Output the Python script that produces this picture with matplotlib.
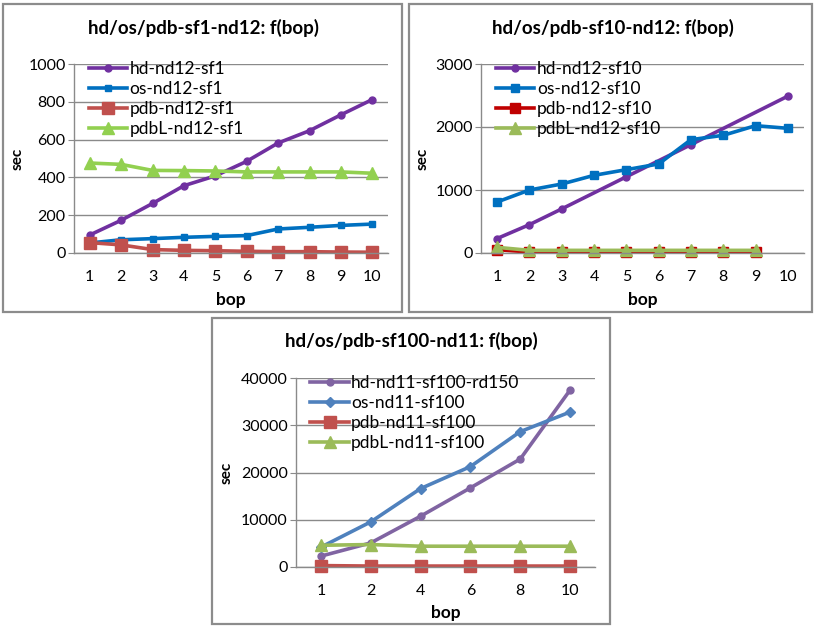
import numpy as np
import matplotlib
matplotlib.use("Agg")
import matplotlib.pyplot as plt
from matplotlib.patches import Rectangle

plt.rcParams['font.family'] = ['Lato', 'DejaVu Sans']

# --- data ---
cats_a = ['1', '2', '3', '4', '5', '6', '7', '8', '9', '10']
hd_sf1 = [95, 173, 262, 356, 408, 485, 582, 647, 731, 812]
os_sf1 = [53, 70, 76, 83, 88, 92, 127, 136, 146, 153]
pdb_sf1 = [55, 43, 18, 14, 12, 9, 7, 7, 5, 4]
pdbL_sf1 = [476, 469, 437, 436, 434, 429, 429, 429, 429, 422]

hd_sf10 = [230, 450, 700, np.nan, 1210, np.nan, 1720, np.nan, np.nan, 2490]
os_sf10 = [810, 1000, 1095, 1233, 1323, 1413, 1799, 1868, 2021, 1979]
pdb_sf10 = [53, 16, 16, 16, 16, 16, 16, 16, 16, np.nan]
pdbL_sf10 = [90, 42, 42, 42, 42, 42, 42, 42, 42, np.nan]

cats_c = ['1', '2', '4', '6', '8', '10']
hd_sf100 = [2300, 5100, 10750, 16750, 22850, 37450]
os_sf100 = [4200, 9550, 16600, 21250, 28650, 32800]
pdb_sf100 = [300, 200, 200, 200, 200, 200]
pdbL_sf100 = [4600, 4750, 4400, 4400, 4400, 4400]

W, H = 814, 626
fig = plt.figure(figsize=(W / 100, H / 100), dpi=100)
fig.patch.set_facecolor('white')


def frac_box(x0, y0, x1, y1):
    return [x0 / W, 1 - y1 / H, (x1 - x0) / W, (y1 - y0) / H]


def panel_frame(x0, y0, x1, y1):
    fig.add_artist(Rectangle((x0 / W, 1 - y1 / H), (x1 - x0) / W, (y1 - y0) / H,
                             transform=fig.transFigure, fill=False,
                             edgecolor='#8c8c8c', lw=1.6))


def draw_panel(box, cats, series, ymax, ystep, title, title_x, title_y, ylab_x, xlab_y):
    ax = fig.add_axes(frac_box(*box))
    x = np.arange(len(cats))
    for name, vals, color, marker, ms in series:
        v = np.array(vals, dtype=float)
        ok = ~np.isnan(v)
        ax.plot(x[ok], v[ok], color=color, marker=marker, markersize=ms, lw=2.6,
                markeredgecolor=color, label=name, clip_on=False)
    ax.set_xlim(-0.5, len(cats) - 0.5)
    ax.set_ylim(0, ymax)
    ax.set_yticks(np.arange(0, ymax + 1, ystep))
    ax.set_xticks(x)
    ax.set_xticklabels(cats)
    ax.yaxis.grid(True, color='#8a8a8a', lw=1)
    ax.set_axisbelow(True)
    for s in ['top', 'right']:
        ax.spines[s].set_visible(False)
    for s in ['left', 'bottom']:
        ax.spines[s].set_color('#8a8a8a')
        ax.spines[s].set_linewidth(1)
    ax.tick_params(axis='y', length=4, color='#8a8a8a', labelsize=11.5, pad=2)
    ax.tick_params(axis='x', length=0, labelsize=11.5, pad=12)
    ax.legend(loc='upper left', bbox_to_anchor=(0.025, 1.05), frameon=False,
              fontsize=12.5, handlelength=2.2, handletextpad=0.15,
              labelspacing=0.22, borderaxespad=0)
    fig.text(title_x / W, 1 - title_y / H, title, ha='center', va='center',
             fontsize=13.5, fontweight='bold')
    fig.text(ylab_x / W, 1 - (box[1] + box[3]) / 2 / H, 'sec', rotation=90,
             ha='center', va='center', fontsize=11, fontweight='bold')
    fig.text((box[0] + box[2]) / 2 / W, 1 - xlab_y / H, 'bop', ha='center',
             va='center', fontsize=12.5, fontweight='bold')
    return ax


panel_frame(3, 4, 402, 312)
panel_frame(409, 4, 812, 312)
panel_frame(212, 318, 610, 624)

draw_panel((74, 64, 388, 253), cats_a, [
    ('hd-nd12-sf1', hd_sf1, '#7030A0', 'o', 5),
    ('os-nd12-sf1', os_sf1, '#0070C0', 's', 5),
    ('pdb-nd12-sf1', pdb_sf1, '#C0504D', 's', 9),
    ('pdbL-nd12-sf1', pdbL_sf1, '#92D050', '^', 9),
], 1000, 200, 'hd/os/pdb-sf1-nd12: f(bop)', 203, 28, 18, 300)

draw_panel((481, 64, 804, 253), cats_a, [
    ('hd-nd12-sf10', hd_sf10, '#7030A0', 'o', 5),
    ('os-nd12-sf10', os_sf10, '#0070C0', 's', 6),
    ('pdb-nd12-sf10', pdb_sf10, '#C00000', 's', 7),
    ('pdbL-nd12-sf10', pdbL_sf10, '#9BBB59', '^', 8),
], 3000, 1000, 'hd/os/pdb-sf10-nd12: f(bop)', 613, 28, 423, 300)

draw_panel((296, 378, 595, 567), cats_c, [
    ('hd-nd11-sf100-rd150', hd_sf100, '#8064A2', 'o', 5),
    ('os-nd11-sf100', os_sf100, '#4F81BD', 'D', 5),
    ('pdb-nd11-sf100', pdb_sf100, '#C0504D', 's', 9),
    ('pdbL-nd11-sf100', pdbL_sf100, '#9BBB59', '^', 9),
], 40000, 10000, 'hd/os/pdb-sf100-nd11: f(bop)', 411, 341, 227, 613)

fig.savefig('out.png', dpi=100, facecolor='white')
